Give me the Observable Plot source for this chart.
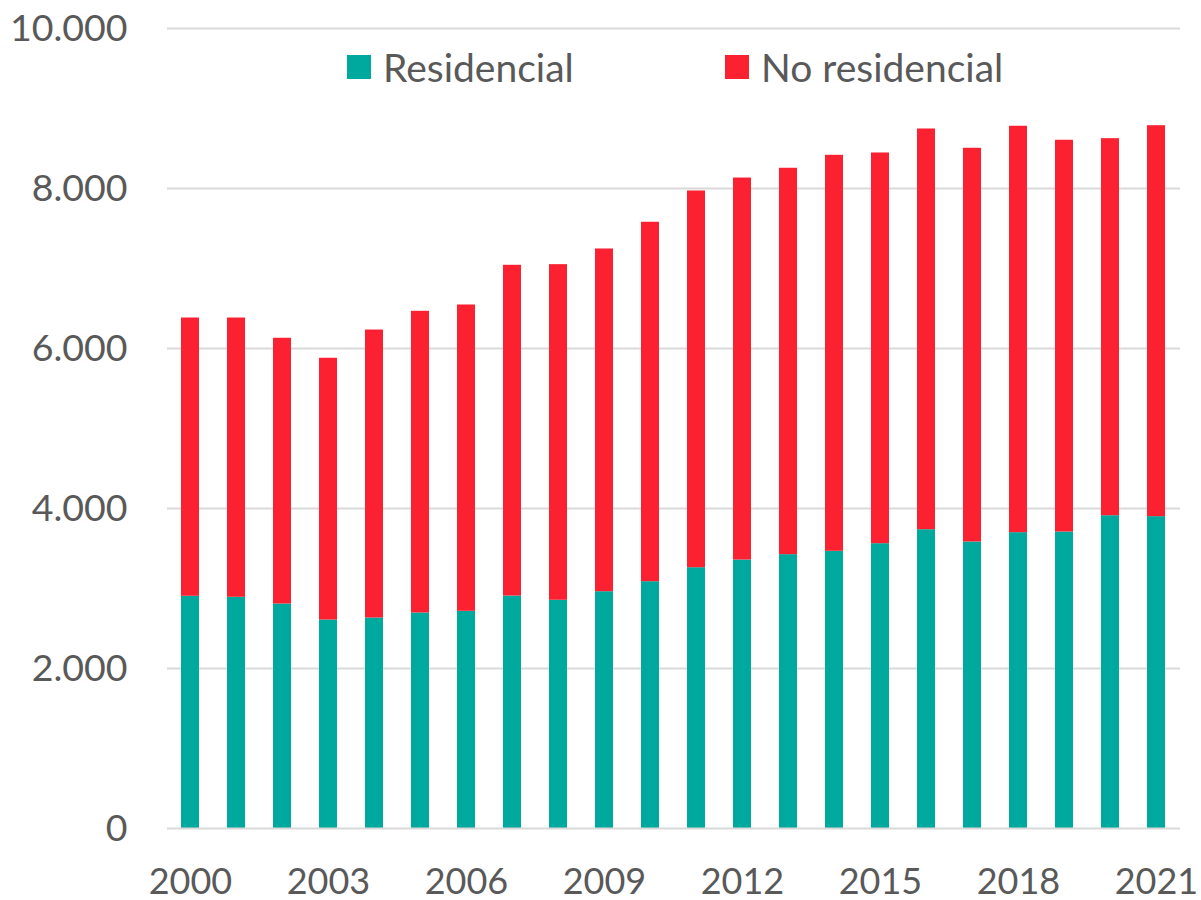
<!DOCTYPE html>
<html>
<head>
<meta charset="utf-8">
<script src="https://cdn.jsdelivr.net/npm/d3@7"></script>
<script src="https://cdn.jsdelivr.net/npm/@observablehq/plot@0.6"></script>
<style>
  html, body { margin: 0; padding: 0; background: #fff; }
  #wrap { position: relative; width: 1201px; height: 900px; font-family: Lato, "Open Sans", sans-serif; }
  .legend { position: absolute; top: 44px; left: 0; font-size: 39px; color: #595959; }
  .item { position: absolute; white-space: nowrap; display: flex; align-items: center; }
  .sw { width: 24px; height: 24px; display: inline-block; margin-right: 12px; }
</style>
</head>
<body>
<div id="wrap"></div>
<script>
const years = ["2000","2001","2002","2003","2004","2005","2006","2007","2008","2009","2010","2011","2012","2013","2014","2015","2016","2017","2018","2019","2020","2021"];
const residencial = [2903,2890,2806,2606,2631,2694,2715,2906,2853,2960,3085,3260,3356,3423,3465,3560,3735,3581,3698,3706,3910,3898];
const noResidencial = [3478,3491,3322,3272,3600,3771,3829,4134,4195,4284,4493,4709,4775,4830,4950,4884,5009,4922,5080,4897,4713,4887];
const series = ["Residencial","No residencial"];
const colors = ["#00a99d","#fc2130"];
const xTicks = ["2000","2003","2006","2009","2012","2015","2018","2021"];
const yTicks = [0,2000,4000,6000,8000,10000];

const data = [];
years.forEach((y,i) => {
  data.push({year: y, serie: series[0], value: residencial[i]});
  data.push({year: y, serie: series[1], value: noResidencial[i]});
});

const fmt = d => d3.format(",")(d).replace(/,/g, ".");

const chart = Plot.plot({
  width: 1201,
  height: 900,
  marginLeft: 167,
  marginRight: 21,
  marginTop: 28,
  marginBottom: 72,
  style: {fontFamily: "Lato, 'Open Sans', sans-serif", fontSize: "36px", color: "#595959", background: "#fff", overflow: "visible"},
  x: {domain: years, paddingInner: 0.6, paddingOuter: 0.3, label: null, axis: null},
  y: {domain: [0, 10000], label: null, axis: null},
  color: {domain: series, range: colors},
  marks: [
    Plot.gridY(yTicks.filter(d => d > 0), {stroke: "#d9d9d9", strokeOpacity: 1, strokeWidth: 1.8}),
    Plot.barY(data, {x: "year", y: "value", fill: "serie", order: series}),
    Plot.ruleY([0], {stroke: "#d9d9d9", strokeWidth: 1.8}),
    Plot.axisY({ticks: yTicks, tickSize: 0, tickPadding: 40, tickFormat: fmt, fill: "#595959", label: null, fontSize: 37.5}),
    Plot.axisX({ticks: xTicks, tickSize: 0, tickPadding: 40, fill: "#595959", label: null, fontSize: 36})
  ]
});

const wrap = document.getElementById("wrap");
wrap.appendChild(chart);

const legend = document.createElement("div");
legend.className = "legend";
const positions = [347, 725];
series.forEach((s, i) => {
  const it = document.createElement("div");
  it.className = "item";
  it.style.left = positions[i] + "px";
  const sw = document.createElement("span");
  sw.className = "sw";
  sw.style.background = colors[i];
  it.appendChild(sw);
  it.appendChild(document.createTextNode(s));
  legend.appendChild(it);
});
wrap.appendChild(legend);
</script>
</body>
</html>
